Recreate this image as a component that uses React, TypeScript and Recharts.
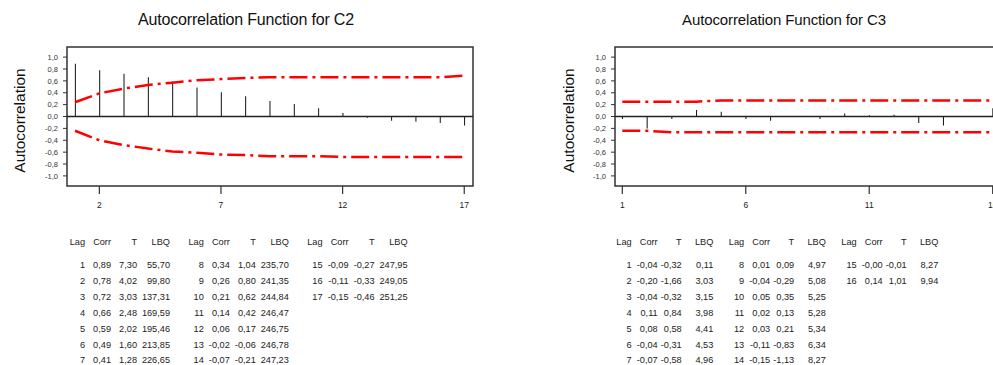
import React from 'react';
import { ComposedChart, Bar, Line, XAxis, YAxis, ReferenceLine, ReferenceArea } from 'recharts';

const FONT = '"Liberation Sans", Arial, sans-serif';

// C2 ACF
const c2Lags = [1, 2, 3, 4, 5, 6, 7, 8, 9, 10, 11, 12, 13, 14, 15, 16, 17];
const c2Corr = [0.89, 0.78, 0.72, 0.66, 0.59, 0.49, 0.41, 0.34, 0.26, 0.21, 0.14, 0.06, -0.02, -0.07, -0.09, -0.11, -0.15];
const c2T = [7.30, 4.02, 3.03, 2.48, 2.02, 1.60, 1.28, 1.04, 0.80, 0.62, 0.42, 0.17, -0.06, -0.21, -0.27, -0.33, -0.46];
const c2LBQ = [55.70, 99.80, 137.31, 169.59, 195.46, 213.85, 226.65, 235.70, 241.35, 244.84, 246.47, 246.75, 246.78, 247.23, 247.95, 249.05, 251.25];
const c2Upper = [0.24, 0.39, 0.47, 0.53, 0.57, 0.61, 0.63, 0.65, 0.66, 0.66, 0.66, 0.66, 0.66, 0.66, 0.66, 0.66, 0.69];
const c2Lower = [-0.24, -0.40, -0.48, -0.54, -0.59, -0.61, -0.64, -0.65, -0.67, -0.67, -0.67, -0.68, -0.68, -0.68, -0.68, -0.68, -0.68];
const c2XTicks = [2, 7, 12, 17];

// C3 ACF
const c3Lags = [1, 2, 3, 4, 5, 6, 7, 8, 9, 10, 11, 12, 13, 14, 15, 16];
const c3Corr = [-0.04, -0.20, -0.04, 0.11, 0.08, -0.04, -0.07, 0.01, -0.04, 0.05, 0.02, 0.03, -0.11, -0.15, -0.0, 0.14];
const c3T = [-0.32, -1.66, -0.32, 0.84, 0.58, -0.31, -0.58, 0.09, -0.29, 0.35, 0.13, 0.21, -0.83, -1.13, -0.01, 1.01];
const c3LBQ = [0.11, 3.03, 3.15, 3.98, 4.41, 4.53, 4.96, 4.97, 5.08, 5.25, 5.28, 5.34, 6.34, 8.27, 8.27, 9.94];
const c3Upper = [0.25, 0.25, 0.25, 0.25, 0.27, 0.27, 0.27, 0.27, 0.27, 0.27, 0.27, 0.27, 0.27, 0.27, 0.27, 0.27];
const c3Lower = [-0.24, -0.24, -0.265, -0.265, -0.265, -0.265, -0.265, -0.265, -0.265, -0.265, -0.265, -0.265, -0.265, -0.265, -0.265, -0.265];
const c3XTicks = [1, 6, 11, 16];

const yTicks = [-1.0, -0.8, -0.6, -0.4, -0.2, 0.0, 0.2, 0.4, 0.6, 0.8, 1.0];
const headers = ['Lag', 'Corr', 'T', 'LBQ'];

const fmt = (v: number) => (v < 0 || Object.is(v, -0) ? '-' : '') + Math.abs(v).toFixed(2).replace('.', ',');
const fmtY = (v: number) => v.toFixed(1).replace('.', ',');

const build = (lags: number[], corr: number[], up: number[], lo: number[]) =>
  lags.map((lag, i) => ({ lag, corr: corr[i], up: up[i], lo: lo[i] }));

type AcfProps = {
  data: any[];
  xDomain: [number, number];
  xTicks: number[];
  width: number;
  yAxisWidth: number;
  marginRight: number;
};

const Acf = ({ data, xDomain, xTicks, width, yAxisWidth, marginRight }: AcfProps) => (
  <ComposedChart width={width} height={215} data={data} margin={{ top: 47, right: marginRight, bottom: 0, left: 0 }}>
    <XAxis
      dataKey="lag"
      type="number"
      domain={xDomain}
      ticks={xTicks}
      interval={0}
      allowDataOverflow
      axisLine={false}
      tickLine={{ stroke: '#333', strokeWidth: 1.2 }}
      tickSize={8}
      tickMargin={8}
      height={29}
      tick={{ fontSize: 8.5, fill: '#222', fontFamily: FONT }}
    />
    <YAxis
      type="number"
      domain={[-1.17, 1.17]}
      ticks={yTicks}
      interval={0}
      allowDataOverflow
      axisLine={false}
      tickLine={{ stroke: '#333' }}
      tickSize={4}
      tickMargin={5}
      width={yAxisWidth}
      tickFormatter={fmtY}
      tick={{ fontSize: 7.5, fill: '#333', fontFamily: FONT }}
    />
    <ReferenceArea x1={xDomain[0]} x2={xDomain[1]} y1={-1.17} y2={1.17} fill="none" fillOpacity={0} stroke="#333" strokeWidth={1.5} ifOverflow="visible" />
    <ReferenceLine y={0} stroke="#222" strokeWidth={1.3} />
    <Bar dataKey="corr" barSize={1} fill="#111" isAnimationActive={false} />
    <Line dataKey="up" type="linear" stroke="#ff0000" strokeWidth={2.5} strokeDasharray="18 5 3 5" dot={false} activeDot={false} isAnimationActive={false} />
    <Line dataKey="lo" type="linear" stroke="#ff0000" strokeWidth={2.5} strokeDasharray="18 5 3 5" dot={false} activeDot={false} isAnimationActive={false} />
  </ComposedChart>
);

type TableProps = {
  lags: number[];
  corr: number[];
  t: number[];
  lbq: number[];
  x0: number;
  groupStep: number;
  colOffsets: number[];
};

const Table = ({ lags, corr, t, lbq, x0, groupStep, colOffsets }: TableProps) => {
  const out: React.ReactNode[] = [];
  const groups = Math.ceil(lags.length / 7);
  for (let g = 0; g < groups; g++) {
    const gx = x0 + g * groupStep;
    headers.forEach((h, c) => {
      out.push(
        <text key={`h${g}${c}`} x={gx + colOffsets[c]} y={245} textAnchor="end">{h}</text>
      );
    });
    for (let r = 0; r < 7; r++) {
      const i = g * 7 + r;
      if (i >= lags.length) break;
      const y = 268.3 + r * 15.85;
      const vals = [String(lags[i]), fmt(corr[i]), fmt(t[i]), fmt(lbq[i])];
      vals.forEach((v, c) => {
        out.push(
          <text key={`v${i}${c}`} x={gx + colOffsets[c]} y={y} textAnchor="end">{v}</text>
        );
      });
    }
  }
  return <g>{out}</g>;
};

export default function App() {
  const c2Data = build(c2Lags, c2Corr, c2Upper, c2Lower);
  const c3Data = build(c3Lags, c3Corr, c3Upper, c3Lower);
  return (
    <div style={{ position: 'absolute', left: 0, top: 0, width: 993, height: 365, overflow: 'hidden', background: '#fff', fontFamily: FONT }}>
      <div style={{ position: 'absolute', left: 0, top: 0 }}>
        <Acf data={c2Data} xDomain={[0.67, 17.36]} xTicks={c2XTicks} width={500} yAxisWidth={67} marginRight={27} />
      </div>
      <div style={{ position: 'absolute', left: 500, top: 0 }}>
        <Acf data={c3Data} xDomain={[0.704, 16.296]} xTicks={c3XTicks} width={520} yAxisWidth={115} marginRight={20} />
      </div>
      <svg width={993} height={365} style={{ position: 'absolute', left: 0, top: 0, pointerEvents: 'none' }}>
        <g fontFamily={FONT} fill="#111">
          <text x={246} y={25} textAnchor="middle" fontSize={16} letterSpacing={-0.18}>Autocorrelation Function for C2</text>
          <text x={784} y={25} textAnchor="middle" fontSize={15} letterSpacing={-0.12}>Autocorrelation Function for C3</text>
          <text transform="translate(25,120.5) rotate(-90)" textAnchor="middle" fontSize={15.5}>Autocorrelation</text>
          <text transform="translate(574,120.5) rotate(-90)" textAnchor="middle" fontSize={15.5}>Autocorrelation</text>
        </g>
        <g fontFamily={FONT} fill="#222" fontSize={9.2}>
          <Table lags={c2Lags} corr={c2Corr} t={c2T} lbq={c2LBQ} x0={0} groupStep={118.8} colOffsets={[85, 111, 137, 170]} />
          <Table lags={c3Lags} corr={c3Corr} t={c3T} lbq={c3LBQ} x0={0} groupStep={112.5} colOffsets={[631.7, 657.7, 681.7, 713.3]} />
        </g>
      </svg>
    </div>
  );
}
